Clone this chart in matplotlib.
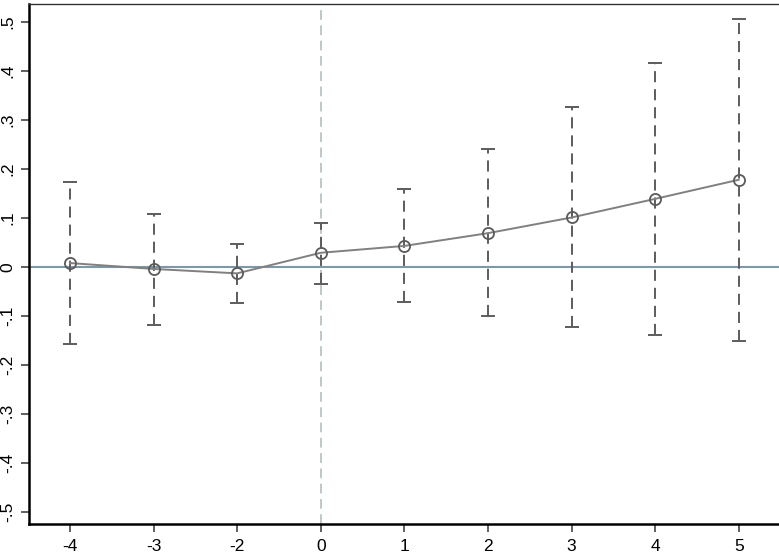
import matplotlib
matplotlib.use("Agg")
import matplotlib.pyplot as plt
import numpy as np

plt.rcParams['font.family'] = ['Liberation Sans', 'DejaVu Sans']
plt.rcParams['lines.scale_dashes'] = False

periods = ["-4", "-3", "-2", "0", "1", "2", "3", "4", "5"]
coef = [0.008, -0.004, -0.013, 0.029, 0.043, 0.069, 0.101, 0.139, 0.178]
ci_low = [-0.157, -0.119, -0.074, -0.035, -0.072, -0.101, -0.122, -0.138, -0.152]
ci_high = [0.173, 0.109, 0.047, 0.089, 0.159, 0.240, 0.327, 0.416, 0.507]
yticks = [-0.5, -0.4, -0.3, -0.2, -0.1, 0.0, 0.1, 0.2, 0.3, 0.4, 0.5]
ytick_labels = ["-.5", "-.4", "-.3", "-.2", "-.1", "0", ".1", ".2", ".3", ".4", ".5"]

W, H = 779, 557
fig = plt.figure(figsize=(W / 100, H / 100), dpi=100)
ax = fig.add_axes([29 / W, 33 / H, (W - 29) / W + 0.002, (524 - 4) / H])

x = np.arange(len(periods))
coef = np.array(coef)
lo = np.array(ci_low)
hi = np.array(ci_high)

# reference lines
ax.axhline(0, color="#7d98a8", lw=1.5, zorder=1)
ax.axvline(periods.index("0"), color="#b7c4c4", lw=1.3, dashes=(7, 4), zorder=1)

# error bars
eb = ax.errorbar(x, coef, yerr=[coef - lo, hi - coef], fmt="none",
                 ecolor="#5c5c5c", elinewidth=1.4, capsize=5, capthick=1.4, zorder=2)
for lc in eb[2]:
    lc.set_linestyle((0, (8, 5)))

# line + markers
ax.plot(x, coef, color="#808080", lw=1.4, zorder=3)
ax.plot(x, coef, "o", ms=8, mfc="none", mec="#5a5a5a", mew=1.3, zorder=4)

ax.set_xlim(-0.49, 8.5)
ax.set_ylim(-0.5245, 0.5367)
ax.set_xticks(x)
ax.set_xticklabels(periods)
ax.set_yticks(yticks)
ax.set_yticklabels(ytick_labels, rotation=90, va="center")

ax.tick_params(axis="both", direction="out", length=6, width=1.2, color="#444444",
               labelsize=12.5, labelcolor="black")
ax.tick_params(axis="x", pad=5)
ax.tick_params(axis="y", pad=4)

for s in ["left", "bottom"]:
    ax.spines[s].set_linewidth(1.8)
    ax.spines[s].set_color("black")
ax.spines["top"].set_linewidth(1.0)
ax.spines["top"].set_color("#333333")
ax.spines["right"].set_visible(False)

fig.savefig("out.png", dpi=100)
